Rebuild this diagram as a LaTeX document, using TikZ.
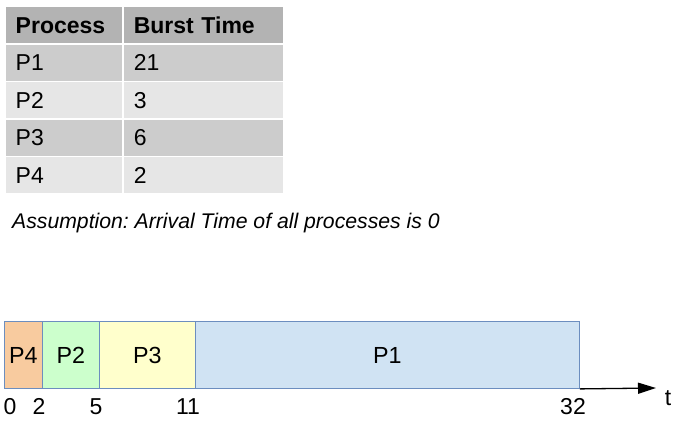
\documentclass[tikz,border=0pt]{standalone}
\usepackage{fontspec}
\setmainfont{Liberation Sans}
\usetikzlibrary{arrows.meta}
\frenchspacing
\definecolor{hdr}{HTML}{B3B3B3}
\definecolor{rowa}{HTML}{CCCCCC}
\definecolor{rowb}{HTML}{E6E6E6}
\definecolor{cp4}{HTML}{F8CB9F}
\definecolor{cp2}{HTML}{CCFFCC}
\definecolor{cp3}{HTML}{FFFFCC}
\definecolor{cp1}{HTML}{D0E3F3}
\definecolor{gborder}{HTML}{6C8EBF}
\tikzset{
  cell/.style={draw=white, line width=1.5pt, anchor=north west, minimum height=37.5pt,
    inner xsep=11pt, inner ysep=0pt, align=left, text height=16.5pt, text depth=0pt,
    font=\fontsize{23}{27}\selectfont},
  c1/.style={cell, minimum width=118pt, text width=96pt},
  c2/.style={cell, minimum width=161pt, text width=139pt},
  gbox/.style={draw=gborder, line width=0.9pt, anchor=north west, minimum height=67pt,
    inner sep=0pt, text height=16.5pt, text depth=0pt, font=\fontsize{23.3}{27}\selectfont},
  tick/.style={anchor=base, inner sep=0pt, font=\fontsize{23}{27}\selectfont}
}
\begin{document}
\begin{tikzpicture}[x=1pt,y=-1pt]
\useasboundingbox (0,0) rectangle (681,421);
% table
\node[c1, fill=hdr] (h1) at (4,5.5) {\bfseries Process};
\node[c2, fill=hdr] (h2) at (122,5.5) {\bfseries Burst Time};
\node[c1, fill=rowa] (r1a) at (4,43) {P1};
\node[c2, fill=rowa] (r1b) at (122,43) {21};
\node[c1, fill=rowb] (r2a) at (4,80.5) {P2};
\node[c2, fill=rowb] (r2b) at (122,80.5) {3};
\node[c1, fill=rowa] (r3a) at (4,118) {P3};
\node[c2, fill=rowa] (r3b) at (122,118) {6};
\node[c1, fill=rowb] (r4a) at (4,155.5) {P4};
\node[c2, fill=rowb] (r4b) at (122,155.5) {2};
% assumption
\node[anchor=base west, inner sep=0pt, font=\fontsize{21.2}{25}\selectfont\itshape] (asm) at (12,228)
  {Assumption: Arrival Time of all processes is 0};
% gantt
\node[gbox, fill=cp4, minimum width=38pt] (g4) at (4,321) {P4};
\node[gbox, fill=cp2, minimum width=57pt] (g2) at (42,321) {P2};
\node[gbox, fill=cp3, minimum width=96pt] (g3) at (99,321) {P3};
\node[gbox, fill=cp1, minimum width=384pt] (g1) at (195,321) {P1};
\coordinate (tend) at (656,388);
\draw[line width=1.3pt, -{Triangle[length=18pt,width=11pt]}] (g1.south east) -- (tend);
\node[tick] (t) at (668,405) {t};
\node[tick] (l0) at (10,414) {0};
\node[tick] (l2) at (39,414) {2};
\node[tick] (l5) at (96,414) {5};
\node[tick] (l11) at (188,414) {11};
\node[tick] (l32) at (573,414) {32};
\end{tikzpicture}
\end{document}
